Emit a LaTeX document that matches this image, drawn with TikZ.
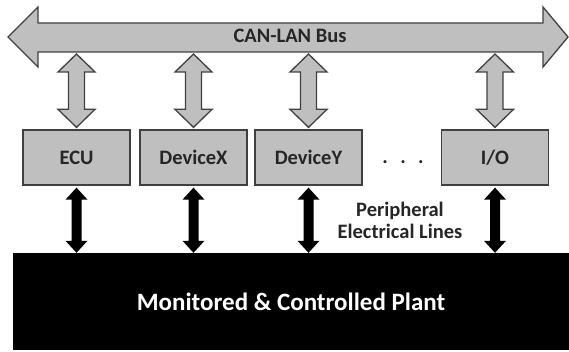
\documentclass[tikz,border=0pt]{standalone}
\usepackage{fontspec}
\setmainfont{Carlito}
\usetikzlibrary{calc}

% fat two-headed connector drawn as a closed outline between two points
% #1 style, #2 upper end, #3 lower end, #4 head half width, #5 shaft half width, #6 head length
\newcommand\fatlink[6]{%
  \path[#1] let \p1=#2, \p2=#3 in
    (\x1,\y1) -- (\x1+#4,\y1-#6) -- (\x1+#5,\y1-#6) -- (\x1+#5,\y2+#6)
    -- (\x1+#4,\y2+#6) -- (\x1,\y2) -- (\x1-#4,\y2+#6) -- (\x1-#5,\y2+#6)
    -- (\x1-#5,\y1-#6) -- (\x1-#4,\y1-#6) -- cycle;}

\definecolor{busgray}{RGB}{191,191,191}
\definecolor{edgegray}{RGB}{64,64,64}
\definecolor{inkgray}{RGB}{38,38,38}

\tikzset{
  unitbox/.style={draw=edgegray, line width=1.3pt, fill=busgray,
    minimum width=107pt, minimum height=55pt, inner sep=0pt,
    text=inkgray, font=\fontsize{20.5}{22}\selectfont\bfseries},
  buslink/.style={draw=edgegray, line width=1.3pt, fill=busgray, line join=miter},
  wirelink/.style={fill=black},
  label/.style={text=inkgray, font=\fontsize{20.5}{22}\selectfont\bfseries, inner sep=0pt}
}

\begin{document}
\begin{tikzpicture}[x=1pt, y=-1pt]
\useasboundingbox (0,0) rectangle (569,352);

% CAN-LAN bus drawn as a wide double-headed arrow
\draw[buslink] (8,37) -- (38,7) -- (38,23) -- (543,23) -- (543,7) -- (568,37)
  -- (543,67) -- (543,52) -- (38,52) -- (38,67) -- cycle;
\node[label, anchor=base] (bus) at (290,43) {CAN-LAN Bus};
\coordinate (busbot) at (288,52);

% attached units
\node[unitbox] (ecu)  at (76.5,157.5) {ECU};
\node[unitbox] (devx) at (193.5,157.5) {DeviceX};
\node[unitbox] (devy) at (308.5,157.5) {DeviceY};
\node[unitbox] (io)   at (495,157.5) {I/O};
\node[label, anchor=base] (dots) at (403,164) {.\hspace{12.3pt}.\hspace{12.3pt}.};

% plant
\node[fill=black, minimum width=556pt, minimum height=97pt, inner sep=0pt,
  text=white, font=\fontsize{25}{28}\selectfont\bfseries] (plant) at (291,301.5)
  {Monitored \& Controlled Plant};

% bus connections
\foreach \u in {ecu,devx,devy,io}{
  \fatlink{buslink}{($(\u.north |- busbot)+(0,2)$)}{($(\u.north)+(0,-2)$)}{18.5pt}{8pt}{18pt}
}

% electrical lines to the plant
\foreach \u in {ecu,devx,devy,io}{
  \fatlink{wirelink}{($(\u.south)+(0,2)$)}{(\u.south |- plant.north)}{11pt}{5pt}{12pt}
}

\node[label, align=center] (lines) at (400,220) {Peripheral\\Electrical Lines};
\end{tikzpicture}
\end{document}
